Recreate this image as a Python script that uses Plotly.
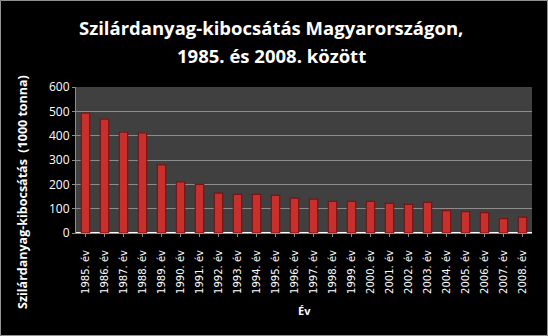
import plotly.graph_objects as go

years = [f"{y}. év" for y in range(1985, 2009)]
values = [493, 468, 414, 411, 280, 210, 200, 164, 159, 159, 155, 143,
          139, 130, 130, 130, 122, 118, 126, 92, 88, 84, 59, 65]
y_ticks = [0, 100, 200, 300, 400, 500, 600]

PW, PH = 456, 146

fig = go.Figure(go.Bar(
    x=years, y=values,
    marker=dict(color="#C8302E", line=dict(color="#7A1414", width=1.2)),
))

fig.update_layout(
    width=548, height=336,
    margin=dict(l=76, r=16, t=87, b=103),
    paper_bgcolor="black", plot_bgcolor="#404040",
    bargap=0.56,
    showlegend=False,
    font=dict(family="DejaVu Sans", color="white"),
    shapes=[dict(type="rect", xref="paper", yref="paper",
                 x0=-76/PW + 0.001, y0=-103/PH + 0.003, x1=1 + 16/PW - 0.001, y1=1 + 87/PH - 0.003,
                 line=dict(color="#9a9a9a", width=1))],
    annotations=[
        dict(text="<b>Szilárdanyag-kibocsátás Magyarországon,</b>", xref="paper", yref="paper",
             x=(271 - 76) / PW, y=1 + (87 - 27) / PH, xanchor="center", yanchor="middle",
             showarrow=False, font=dict(family="Open Sans", size=18.5, color="white")),
        dict(text="<b>1985. és 2008. között</b>", xref="paper", yref="paper",
             x=(271 - 76) / PW, y=1 + (87 - 55) / PH, xanchor="center", yanchor="middle",
             showarrow=False, font=dict(family="Open Sans", size=18.5, color="white")),
        dict(text="<b>Szilárdanyag-kibocsátás  (1000 tonna)</b>", xref="paper", yref="paper",
             x=(22 - 76) / PW, y=(233 - 192) / PH, xanchor="center", yanchor="middle",
             textangle=-90, showarrow=False,
             font=dict(family="Open Sans", size=12.5, color="white")),
        dict(text="<b>Év</b>", xref="paper", yref="paper",
             x=(304 - 76) / PW, y=-(310 - 233) / PH, xanchor="center", yanchor="middle",
             showarrow=False, font=dict(family="Open Sans", size=11, color="white")),
    ],
)

fig.update_xaxes(
    tickangle=-90, tickfont=dict(family="DejaVu Sans", size=10, color="white"),
    showline=True, linecolor="#8c8c8c", linewidth=1,
    ticks="outside", ticklen=3, tickcolor="#8c8c8c",
    ticklabelstandoff=9,
)
fig.update_yaxes(
    range=[0, 600], tickvals=y_ticks,
    tickfont=dict(family="Open Sans", size=12, color="white"),
    showgrid=True, gridcolor="#8c8c8c", gridwidth=1,
    showline=True, linecolor="#8c8c8c", linewidth=1,
    ticks="outside", ticklen=3, tickcolor="#8c8c8c",
)

fig.write_html("out.html")
